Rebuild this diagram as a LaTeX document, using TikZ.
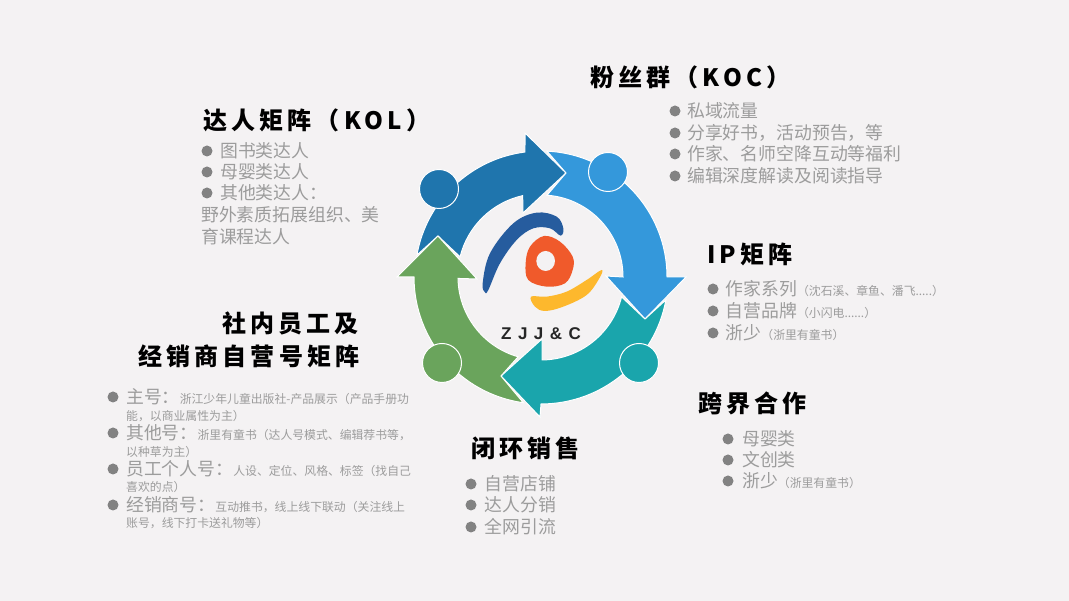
\documentclass[tikz,border=0pt]{standalone}
\usepackage{fontspec}
\setmainfont{Noto Sans CJK SC}
\newfontfamily\headfont[LetterSpace=17.5]{Noto Sans CJK SC}
\newfontfamily\logofont[LetterSpace=38]{Liberation Sans}
\definecolor{pagebg}{HTML}{F4F2F3}
\definecolor{ringdark}{HTML}{1F75AD}
\definecolor{ringlight}{HTML}{3498DB}
\definecolor{ringteal}{HTML}{1AA5AC}
\definecolor{ringgreen}{HTML}{6AA45C}
\definecolor{logoblue}{HTML}{265C9E}
\definecolor{logored}{HTML}{F05A2B}
\definecolor{logoyellow}{HTML}{FDB82D}
\definecolor{bodygray}{HTML}{9C9C9C}
\definecolor{dotgray}{HTML}{828282}
\newcommand{\smalltxt}[1]{{\fontsize{11.85}{12}\selectfont #1}}
\tikzset{
  ringarrow/.style={draw=white, line width=1pt, line join=miter},
  ringdot/.style={circle, draw=white, line width=1pt, inner sep=0pt, minimum size=39pt},
  heading/.style={anchor=west, inner sep=0pt, text=black, font=\fontsize{24}{24}\headfont\bfseries},
  item/.style={anchor=west, inner sep=0pt, text=bodygray, font=\fontsize{17.85}{18}\selectfont},
  bullet/.style={circle, fill=dotgray, inner sep=0pt, minimum size=11pt},
  note/.style={anchor=west, inner sep=0pt, text=bodygray, font=\fontsize{11.85}{12}\selectfont}
}
\begin{document}
\begin{tikzpicture}[x=1pt, y=1pt]
  \fill[pagebg] (0,0) rectangle (1069,601);
  \useasboundingbox (0,0) rectangle (1069,601);
  % ring
  \begin{scope}[shift={(541,324)}]
    \draw[ringarrow, fill=ringdark] (170:126) arc[start angle=170, end angle=97.3, radius=126] -- (-16,144) -- (25,104) -- (-18,64) -- (102.7:83.4) arc[start angle=102.7, end angle=166, radius=83.4] -- (-103,41) -- cycle;
    \draw[ringarrow, fill=ringlight] (87.3:126) arc[start angle=87.3, end angle=0, radius=126] -- (145,0) -- (104,-42) -- (65,1) -- (0:82) arc[start angle=0, end angle=85.8, radius=82] -- (25,104) -- cycle;
    \draw[ringarrow, fill=ringteal] (-10.4:127) arc[start angle=-10.4, end angle=-90, radius=127] -- (-1,-140) -- (-40,-99) -- (1,-62) -- (-89.3:83) arc[start angle=-89.3, end angle=-13.9, radius=83] -- (104,-42) -- cycle;
    \draw[ringarrow, fill=ringgreen] (262:127) arc[start angle=262, end angle=180, radius=127] -- (-144,0) -- (-103,41) -- (-64,-2) -- (181:83) arc[start angle=181, end angle=254, radius=83] -- (-40,-99) -- cycle;
  \end{scope}
  \node[ringdot, fill=ringdark] (dotkol) at (439,601-189) {};
  \node[ringdot, fill=ringlight] (dotkoc) at (608,601-172) {};
  \node[ringdot, fill=ringteal] (dotcross) at (639,601-363) {};
  \node[ringdot, fill=ringgreen] (dotstaff) at (442,601-363) {};
  % logo, in the units of a 3x crop
  \begin{scope}[shift={(390,481)}, x=0.3333pt, y=-0.3333pt]
    \fill[logoblue] plot[smooth cycle, tension=0.6] coordinates {(285,517) (278,490) (300,400) (370,310) (440,278) (500,290) (520,325) (512,347) (480,325) (430,325) (380,360) (330,430) (295,510)};
    \fill[logored] plot[smooth cycle, tension=0.6] coordinates {(462,348) (510,365) (548,410) (548,450) (525,490) (470,500) (415,480) (407,430) (420,380)};
    \fill[pagebg] (467,423) ellipse[x radius=28, y radius=30];
    \fill[logoyellow] plot[smooth cycle, tension=0.6] coordinates {(635,450) (628,475) (590,525) (520,560) (465,573) (435,560) (423,530) (470,530) (530,515) (590,480)};
  \end{scope}
  \node[anchor=west, inner sep=0pt, text=black!85, font=\fontsize{17}{17}\logofont\bfseries] (logotext) at (501,601-334) {ZJJ\&C};
  % headings
  \node[heading] (headkoc) at (590,601-77) {粉丝群（KOC）};
  \node[heading] (headkol) at (203,601-120) {达人矩阵（KOL）};
  \node[heading] (headip) at (707,601-254) {IP矩阵};
  \node[heading] (headstaffa) at (222,601-323) {社内员工及};
  \node[heading] (headstaffb) at (138,601-356) {经销商自营号矩阵};
  \node[heading] (headcross) at (698,601-403) {跨界合作};
  \node[heading] (headloop) at (471,601-448) {闭环销售};
  % lists
  \foreach \ty/\txt in {111/私域流量, 133/{分享好书，活动预告，等}, 154/作家、名师空降互动等福利, 176/编辑深度解读及阅读指导}{
    \node[bullet] (koc\ty) at (675,601-\ty) {};
    \node[item] (koctext\ty) at (687,601-\ty) {\txt};
  }
  \foreach \ty/\txt in {151/图书类达人, 172/母婴类达人, 193/其他类达人：}{
    \node[bullet] (kol\ty) at (207,601-\ty) {};
    \node[item] (koltext\ty) at (220,601-\ty) {\txt};
  }
  \node[item] (koltext215) at (201,601-215) {野外素质拓展组织、美};
  \node[item] (koltext237) at (201,601-237) {育课程达人};
  \foreach \ty/\txt in {289/作家系列\smalltxt{（沈石溪、章鱼、潘飞.....）}, 311/自营品牌\smalltxt{（小闪电......）}, 333/浙少\smalltxt{（浙里有童书）}}{
    \node[bullet] (ip\ty) at (713,601-\ty) {};
    \node[item] (iptext\ty) at (725.5,601-\ty) {\txt};
  }
  \foreach \ty/\txt in {439/母婴类, 460/文创类, 481/浙少\smalltxt{（浙里有童书）}}{
    \node[bullet] (cross\ty) at (728,601-\ty) {};
    \node[item] (crosstext\ty) at (742,601-\ty) {\txt};
  }
  \foreach \ty/\txt in {484/自营店铺, 505/达人分销, 527/全网引流}{
    \node[bullet] (loop\ty) at (471,601-\ty) {};
    \node[item] (looptext\ty) at (484.5,601-\ty) {\txt};
  }
  \foreach \ty/\txt/\nexty/\nexttxt in {397/主号：\smalltxt{浙江少年儿童出版社-产品展示（产品手册功}/416/{能，以商业属性为主）}, 433/其他号：\smalltxt{浙里有童书（达人号模式、编辑荐书等，}/452/以种草为主）, 469/员工个人号：\smalltxt{人设、定位、风格、标签（找自己}/487/喜欢的点）, 505/经销商号：\smalltxt{互动推书，线上线下联动（关注线上}/523/{账号，线下打卡送礼物等）}}{
    \node[bullet] (staff\ty) at (113,601-\ty) {};
    \node[item] (stafftext\ty) at (126,601-\ty) {\txt};
    \node[note] (staffnote\nexty) at (126,601-\nexty) {\nexttxt};
  }
\end{tikzpicture}
\end{document}
